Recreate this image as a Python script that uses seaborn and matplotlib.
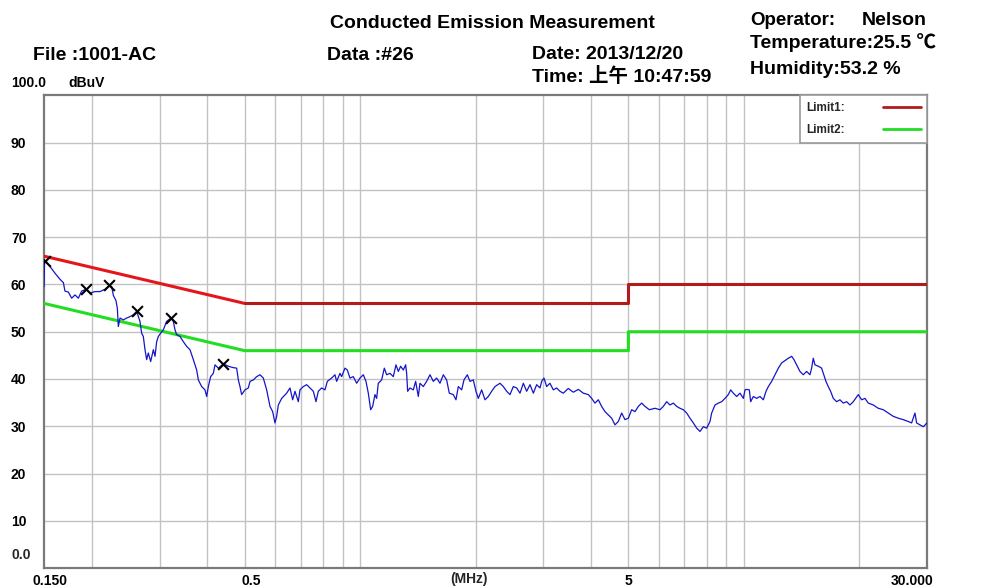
import matplotlib
matplotlib.use('Agg')
import matplotlib.pyplot as plt
import seaborn as sns
import pandas as pd
from matplotlib import font_manager
from matplotlib.transforms import ScaledTranslation
from matplotlib.lines import Line2D
from matplotlib.ticker import NullFormatter

# ---------------- data ----------------
freq_mhz = [
    0.1500, 0.1505, 0.1555, 0.1602, 0.1651, 0.1685, 0.1701, 0.1736, 0.1771, 0.1807,
    0.1843, 0.1880, 0.1930, 0.1977, 0.2037, 0.2099, 0.2163, 0.2220, 0.2251, 0.2274,
    0.2310, 0.2329, 0.2343, 0.2367, 0.2414, 0.2463, 0.2513, 0.2564, 0.2615, 0.2668,
    0.2695, 0.2722, 0.2750, 0.2777, 0.2805, 0.2845, 0.2891, 0.2920, 0.2949, 0.2979,
    0.3021, 0.3069, 0.3131, 0.3214, 0.3259, 0.3292, 0.3325, 0.3392, 0.3461, 0.3531,
    0.3602, 0.3675, 0.3749, 0.3787, 0.3863, 0.3941, 0.3981, 0.4021, 0.4077, 0.4143,
    0.4185, 0.4269, 0.4400, 0.4533, 0.4671, 0.4766, 0.4814, 0.4862, 0.4911, 0.5010,
    0.5111,
    0.5163, 0.5267, 0.5373, 0.5482, 0.5593, 0.5706, 0.5821, 0.5915, 0.5998, 0.6059,
    0.6120, 0.6243, 0.6433, 0.6563, 0.6669, 0.6763, 0.6900, 0.6969, 0.7110, 0.7254,
    0.7400, 0.7550, 0.7671, 0.7779, 0.7937, 0.8097, 0.8211, 0.8427, 0.8597, 0.8684,
    0.8859, 0.8948, 0.9129, 0.9258, 0.9407, 0.9597, 0.9791, 0.9989, 1.0191, 1.0355,
    1.0501, 1.0649, 1.0778, 1.0929, 1.1039, 1.1150, 1.1376, 1.1559, 1.1722, 1.1959,
    1.2200, 1.2397, 1.2572, 1.2749, 1.2955, 1.3137, 1.3217, 1.3296, 1.3483, 1.3756,
    1.3950, 1.4175, 1.4317, 1.4606, 1.4901, 1.5203, 1.5510, 1.5823, 1.6143, 1.6469,
    1.6801, 1.7072,
    1.7487, 1.7769, 1.8020, 1.8384, 1.8644, 1.9020, 1.9326, 1.9717, 2.0035, 2.0318,
    2.0728, 2.1147, 2.1574, 2.2011, 2.2455, 2.3139, 2.3607, 2.4084, 2.4570, 2.5067,
    2.5574, 2.6091, 2.6618, 2.7156, 2.7705, 2.8265, 2.8836, 2.9420, 2.9715, 3.0128,
    3.0614, 3.1232, 3.1863, 3.2507, 3.3164, 3.3834, 3.4865, 3.5927, 3.7022, 3.8150,
    3.9312, 4.0106, 4.0916, 4.1744, 4.2587, 4.3448, 4.4325, 4.5221, 4.6136, 4.7067,
    4.8018, 4.8989, 4.9979, 5.0990, 5.2020, 5.3072, 5.4144, 5.5238, 5.6693,
    5.8653, 6.044, 6.166, 6.2906, 6.4177, 6.5474, 6.6797, 6.8146, 6.9523, 7.0928,
    7.2361, 7.3823, 7.5315, 7.6837, 7.8389, 7.9973, 8.159, 8.2409, 8.4074, 8.5773,
    8.7506, 8.9274, 9.1078, 9.2362, 9.3852, 9.5748, 9.7683, 9.9656, 10.066, 10.167,
    10.331, 10.414, 10.582, 10.796, 11.014, 11.236, 11.418, 11.579, 11.813, 12.051,
    12.295, 12.543, 12.796, 13.055, 13.319, 13.503, 13.720, 13.998, 14.280, 14.569,
    14.863, 15.012, 15.163, 15.315, 15.625, 15.940, 16.100, 16.360, 16.590, 16.825,
    17.097, 17.442, 17.794, 18.154, 18.521, 18.895, 19.277, 19.864, 20.265, 20.674,
    21.092, 21.734, 22.395, 23.077, 23.782, 24.504, 25.251, 26.019, 26.814, 27.356,
    27.908, 28.188, 28.758, 29.339, 30.000,
]
level_dbuv = [
    59.5, 65.0, 63.8, 62.4, 61.1, 60.4, 58.6, 58.4, 57.1, 57.8,
    57.1, 58.6, 59.0, 58.2, 58.5, 58.5, 59.0, 59.8, 59.6, 57.7,
    56.6, 55.0, 51.1, 52.9, 52.5, 52.9, 53.2, 53.6, 54.3, 52.2,
    49.7, 49.0, 46.2, 44.1, 45.5, 43.7, 46.2, 44.8, 47.9, 49.0,
    49.7, 50.4, 52.2, 52.9, 52.2, 50.4, 49.4, 49.0, 47.9, 46.9,
    46.2, 44.1, 41.9, 39.8, 38.4, 37.7, 36.3, 38.4, 40.5, 41.2,
    43.0, 42.3, 43.2, 42.7, 42.4, 42.3, 39.8, 38.4, 36.7, 37.7,
    38.1,
    39.5, 39.8, 40.5, 40.9, 40.2, 37.7, 34.2, 33.1, 30.7, 32.1,
    34.5, 35.9, 37.0, 38.1, 35.6, 37.4, 35.2, 37.7, 38.4, 38.8,
    38.1, 37.4, 35.2, 37.4, 38.1, 37.7, 39.5, 40.2, 40.9, 39.5,
    41.2, 40.5, 42.3, 41.9, 40.2, 40.5, 39.1, 40.2, 40.9, 39.5,
    37.0, 33.5, 34.2, 36.7, 35.9, 39.1, 39.8, 42.3, 40.9, 41.2,
    40.5, 43.0, 41.6, 42.7, 41.9, 43.0, 41.2, 37.4, 38.1, 37.7,
    39.5, 36.3, 39.1, 38.4, 39.5, 40.9, 39.5, 40.2, 39.1, 40.9,
    39.8, 37.0,
    36.7, 35.6, 38.4, 37.7, 39.8, 40.9, 39.5, 39.8, 37.4, 35.9,
    37.7, 35.6, 36.3, 37.4, 38.4, 39.1, 38.4, 37.4, 36.7, 38.4,
    38.1, 37.0, 39.1, 37.4, 38.8, 37.0, 38.8, 38.1, 39.5, 40.2,
    38.4, 39.1, 37.7, 38.1, 37.4, 37.0, 38.0, 37.2, 37.8, 37.0,
    36.7, 35.9, 34.9, 35.6, 34.2, 33.1, 32.4, 31.7, 30.3, 31.0,
    32.8, 31.4, 31.7, 33.5, 33.1, 34.2, 34.9, 34.2, 33.5,
    33.8, 33.5, 34.2, 35.2, 34.5, 34.9, 34.2, 33.8, 33.5, 32.8,
    31.7, 30.7, 29.6, 28.9, 29.9, 29.6, 31.0, 32.8, 34.5, 34.9,
    35.2, 35.9, 36.7, 37.7, 37.0, 36.3, 37.0, 35.9, 37.7, 37.8,
    37.7, 35.2, 36.3, 35.9, 36.3, 35.6, 37.4, 38.4, 39.5, 40.9,
    42.3, 43.4, 43.9, 44.4, 44.8, 44.1, 43.0, 41.6, 40.9, 41.6,
    40.9, 42.3, 44.4, 43.0, 42.7, 42.3, 41.2, 39.5, 38.4, 37.4,
    35.9, 35.2, 35.6, 34.9, 35.2, 34.5, 35.2, 36.7, 35.6, 35.9,
    34.9, 34.5, 33.8, 33.5, 32.8, 32.1, 31.7, 31.4, 31.0, 30.7,
    32.8, 30.7, 30.3, 29.9, 30.7,
]
peak_freq = [0.151, 0.193, 0.222, 0.2615, 0.3214, 0.440]
peak_level = [64.9, 59.0, 59.8, 54.3, 52.9, 43.2]

limit1_freq = [0.15, 0.5, 5, 5, 30]
limit1_level = [66, 56, 56, 60, 60]
limit2_freq = [0.15, 0.5, 5, 5, 30]
limit2_level = [56, 46, 46, 50, 50]

grid_freqs = [0.2, 0.3, 0.4, 0.5, 0.6, 0.7, 0.8, 0.9, 1, 2, 3, 4, 5, 6, 7, 8, 9, 10, 20]
y_tick_vals = [10, 20, 30, 40, 50, 60, 70, 80, 90]
y_tick_labels = ['10', '20', '30', '40', '50', '60', '70', '80', '90']
x_tick_vals = [0.15, 0.5, 5, 30]
x_tick_labels = ['0.150', '0.5', '5', '30.000']

# ---------------- style ----------------
sns.set_theme(style='white')
available = {f.name for f in font_manager.fontManager.ttflist}
base = 'Liberation Sans' if 'Liberation Sans' in available else 'DejaVu Sans'
plt.rcParams['font.family'] = [base, 'Noto Sans CJK SC', 'DejaVu Sans']

W, H = 992, 588
fig = plt.figure(figsize=(W / 100, H / 100), dpi=100)
fig.patch.set_facecolor('white')
ax = fig.add_axes([44 / W, 20 / H, 883 / W, 472.5 / H])
ax.set_facecolor('white')

trace = pd.DataFrame({'freq': freq_mhz, 'level': level_dbuv})
lim1 = pd.DataFrame({'freq': limit1_freq, 'level': limit1_level})
lim2 = pd.DataFrame({'freq': limit2_freq, 'level': limit2_level})

red_slope = '#e3161c'
red_flat = '#b31b1b'
green = '#22dd22'
blue = '#1515c8'

sns.lineplot(data=lim1.iloc[:2], x='freq', y='level', color=red_slope, lw=2.2,
             estimator=None, sort=False, ax=ax, zorder=3)
sns.lineplot(data=lim1.iloc[1:], x='freq', y='level', color=red_flat, lw=2.2,
             estimator=None, sort=False, ax=ax, zorder=3)
sns.lineplot(data=lim2, x='freq', y='level', color=green, lw=2.2,
             estimator=None, sort=False, ax=ax, zorder=3)
sns.lineplot(data=trace, x='freq', y='level', color=blue, lw=0.9,
             estimator=None, sort=False, ax=ax, zorder=4)
sns.scatterplot(x=peak_freq, y=peak_level, marker='x', s=60, color='black',
                linewidth=1.5, ax=ax, zorder=5)

ax.set_xscale('log')
ax.set_xlim(0.15, 30)
ax.set_ylim(0, 100)
ax.set_xlabel('')
ax.set_ylabel('')

ax.set_xticks(x_tick_vals)
ax.set_xticklabels(x_tick_labels)
ax.set_xticks(grid_freqs, minor=True)
ax.xaxis.set_minor_formatter(NullFormatter())
ax.xaxis.remove_overlapping_locs = False
ax.set_yticks(y_tick_vals)
ax.set_yticklabels(y_tick_labels)

ax.grid(False)
ax.xaxis.grid(True, which='minor', color='#c2c2c2', lw=1.0)
ax.yaxis.grid(True, which='major', color='#c2c2c2', lw=1.0)
ax.set_axisbelow(True)

ax.tick_params(axis='both', which='both', length=0)
ax.tick_params(axis='x', pad=4)
ax.tick_params(axis='y', pad=23.8)
for lab in ax.get_yticklabels():
    lab.set_ha('left')
    lab.set_fontsize(10)
    lab.set_fontweight('bold')
    lab.set_color('black')
x_offsets_px = [6, 7, 0, -15]
for lab, dx in zip(ax.get_xticklabels(), x_offsets_px):
    lab.set_fontsize(10)
    lab.set_fontweight('bold')
    lab.set_color('black')
    lab.set_transform(lab.get_transform() + ScaledTranslation(dx / 100, 0, fig.dpi_scale_trans))

for sp in ax.spines.values():
    sp.set_color('#7a7a7a')
    sp.set_linewidth(1.6)

# legend
handles = [Line2D([], [], color=red_flat, lw=2), Line2D([], [], color=green, lw=2)]
leg = ax.legend(handles, ['Limit1:', 'Limit2:'], loc='upper right', markerfirst=False,
                frameon=True, fancybox=False, edgecolor='#9a9a9a', framealpha=1,
                borderaxespad=0, prop=dict(weight='bold', size=8.5),
                handlelength=3.2, handletextpad=3.2, borderpad=0.55, labelspacing=0.85)
leg.get_frame().set_linewidth(1.2)

# ---------------- texts ----------------
def ftext(x, y, s, size=14, weight='bold', **kw):
    fig.text(x / W, 1 - y / H, s, fontsize=size, fontweight=weight, color='black',
             ha='left', va='baseline', **kw)

ftext(330, 28, 'Conducted Emission Measurement')
ftext(750, 25, 'Operator:', size=13.5)
ftext(862, 25, 'Nelson')
ftext(33, 60, 'File :1001-AC')
ftext(327, 60, 'Data :#26')
ftext(532, 59, 'Date: 2013/12/20')
ftext(750, 48, 'Temperature:25.5 \u2103')
ftext(532, 82, 'Time: 上午 10:47:59')
ftext(750, 74, 'Humidity:53.2 %')
ftext(11, 87, '100.0', size=10)
ftext(68, 87, 'dBuV', size=10)
fig.text(11 / W, 1 - 555 / H, '0.0', fontsize=10, fontweight='bold', ha='left', va='center')
fig.text(469 / W, 1 - 579 / H, '(MHz)', fontsize=10, fontweight='bold', ha='center', va='center')

fig.savefig('out.png', dpi=100, facecolor='white')
